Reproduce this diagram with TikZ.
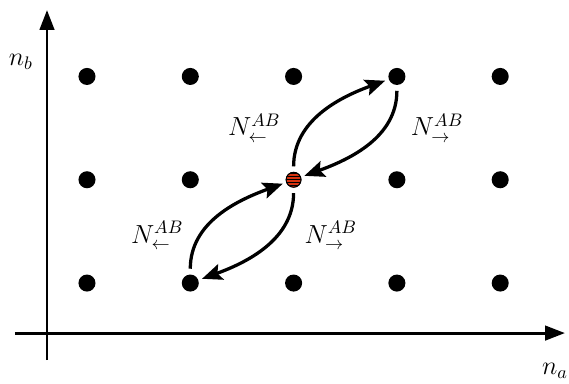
\documentclass[tikz,border=0pt]{standalone}
\usepackage{amsmath}
\usetikzlibrary{positioning,calc,arrows.meta}
\definecolor{siteRed}{RGB}{215,50,15}
\tikzset{
  site/.style={circle,fill=black,inner sep=0pt,minimum size=0.33cm},
  origin/.style={circle,draw=black,fill=siteRed,inner sep=0pt,minimum size=0.29cm},
  hop/.style={line width=1.8pt,-{Stealth[length=11pt,width=9pt,inset=2pt]},shorten <=3pt,shorten >=2pt},
  axis/.style={line width=1.6pt,-{Triangle[length=11pt,width=8pt]}},
  lbl/.style={font=\Large}
}
\begin{document}
\begin{tikzpicture}[x=2cm,y=2cm]
\useasboundingbox (-0.842,-0.968) rectangle (4.666,2.740);
% axes
\coordinate (ya0) at (-0.387,-0.745);
\coordinate (ya1) at (-0.387,2.643);
\coordinate (xa0) at (-0.697,-0.484);
\coordinate (xa1) at (4.627,-0.484);
\draw[axis] (ya0) -- (ya1);
\draw[axis] (xa0) -- (xa1);
\node[lbl] (nb) at (-0.64,2.14) {$n_b$};
\node[lbl] (na) at (4.53,-0.85) {$n_a$};
% lattice
\foreach \i in {0,...,4}{
  \foreach \j in {0,1,2}{
    \ifnum\i=2 \ifnum\j=1 \else \node[site] (d-\i-\j) at (\i,\j) {}; \fi
    \else \node[site] (d-\i-\j) at (\i,\j) {}; \fi
  }
}
\node[origin] (c) at (2,1) {};
\begin{scope}
\clip (c) circle (0.07);
\foreach \k in {-2,...,2}{\draw[line width=0.6pt] ($(c)+(-0.1,\k*0.03)$) -- +(0.2,0);}
\end{scope}
\draw[line width=0.5pt] (c) circle (0.0725);
% hops
\draw[hop] (c) to[out=90,in=200] (d-3-2);
\draw[hop] (d-3-2) to[out=-90,in=20] (c);
\draw[hop] (d-1-0) to[out=90,in=200] (c);
\draw[hop] (c) to[out=-90,in=20] (d-1-0);
\node[lbl] (lu) at (1.62,1.50) {$N^{AB}_{\leftarrow}$};
\node[lbl] (ru) at (3.39,1.50) {$N^{AB}_{\rightarrow}$};
\node[lbl] (ld) at (0.68,0.46) {$N^{AB}_{\leftarrow}$};
\node[lbl] (rd) at (2.36,0.46) {$N^{AB}_{\rightarrow}$};
\end{tikzpicture}
\end{document}
